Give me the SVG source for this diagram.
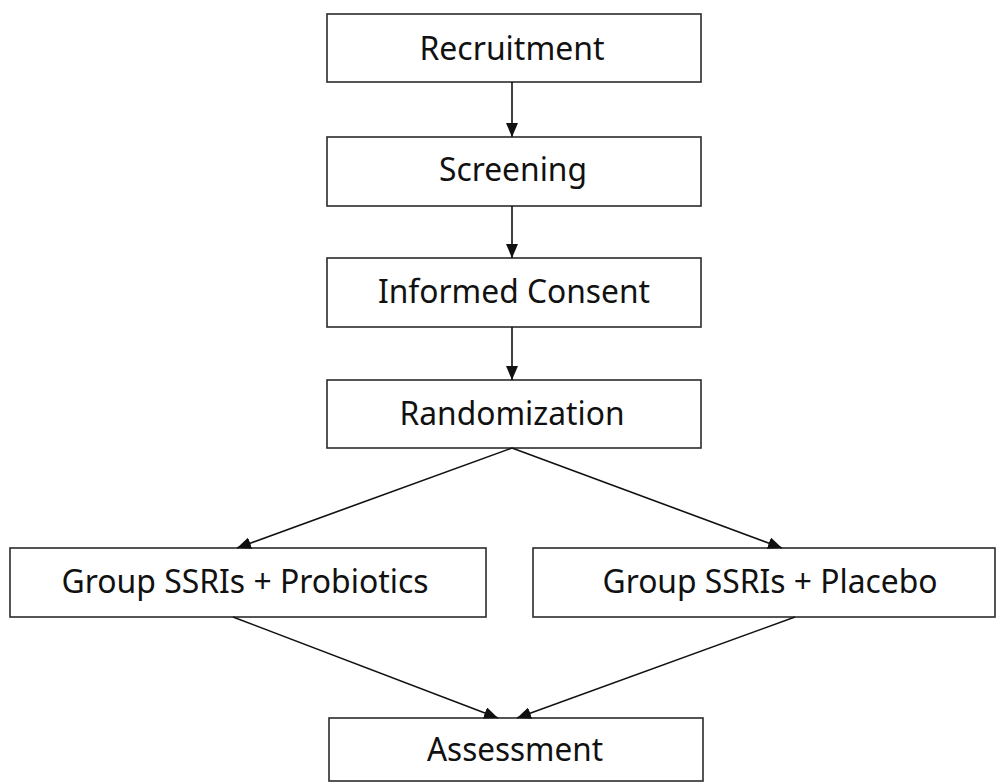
<svg xmlns="http://www.w3.org/2000/svg" width="998" height="783" viewBox="0 0 998 783">
<style>
.box{fill:#ffffff;stroke:#2b2b2b;stroke-width:1.6}
.lbl{font-family:"Noto Sans","Open Sans",sans-serif;font-size:33px;fill:#111;text-anchor:middle}
.edge{stroke:#111;stroke-width:1.6;fill:none;marker-end:url(#ah)}
</style>
<defs>
<marker id="ah" viewBox="0 0 14 12" refX="14" refY="6" markerWidth="14" markerHeight="12" markerUnits="userSpaceOnUse" orient="auto">
<path d="M0,0 L14,6 L0,12 Z" fill="#111"/>
</marker>
</defs>
<rect width="998" height="783" fill="#ffffff"/>
<g id="n-recruitment"><rect class="box" x="327" y="14" width="374" height="68"/><text class="lbl" x="512" y="60" textLength="185" lengthAdjust="spacingAndGlyphs">Recruitment</text></g>
<g id="n-screening"><rect class="box" x="327" y="137" width="374" height="69"/><text class="lbl" x="513" y="181" textLength="148" lengthAdjust="spacingAndGlyphs">Screening</text></g>
<g id="n-consent"><rect class="box" x="327" y="258" width="374" height="69"/><text class="lbl" x="514" y="303" textLength="272" lengthAdjust="spacingAndGlyphs">Informed Consent</text></g>
<g id="n-random"><rect class="box" x="327" y="380" width="374" height="68"/><text class="lbl" x="512" y="425" textLength="225" lengthAdjust="spacingAndGlyphs">Randomization</text></g>
<g id="n-probiotics"><rect class="box" x="10" y="548" width="476" height="69"/><text class="lbl" x="245" y="593" textLength="367" lengthAdjust="spacingAndGlyphs">Group SSRIs + Probiotics</text></g>
<g id="n-placebo"><rect class="box" x="533" y="548" width="462" height="69"/><text class="lbl" x="770" y="593" textLength="335" lengthAdjust="spacingAndGlyphs">Group SSRIs + Placebo</text></g>
<g id="n-assessment"><rect class="box" x="329" y="718" width="374" height="63"/><text class="lbl" x="515" y="761" textLength="176" lengthAdjust="spacingAndGlyphs">Assessment</text></g>
<g id="connectors">
<line class="edge" x1="512" y1="82" x2="512" y2="137"/>
<line class="edge" x1="512" y1="206" x2="512" y2="258"/>
<line class="edge" x1="512" y1="327" x2="512" y2="380"/>
<line class="edge" x1="512" y1="448" x2="237" y2="548"/>
<line class="edge" x1="512" y1="448" x2="782" y2="548"/>
<line class="edge" x1="233" y1="617" x2="498" y2="718"/>
<line class="edge" x1="795" y1="617" x2="517" y2="718"/>
</g>
</svg>
